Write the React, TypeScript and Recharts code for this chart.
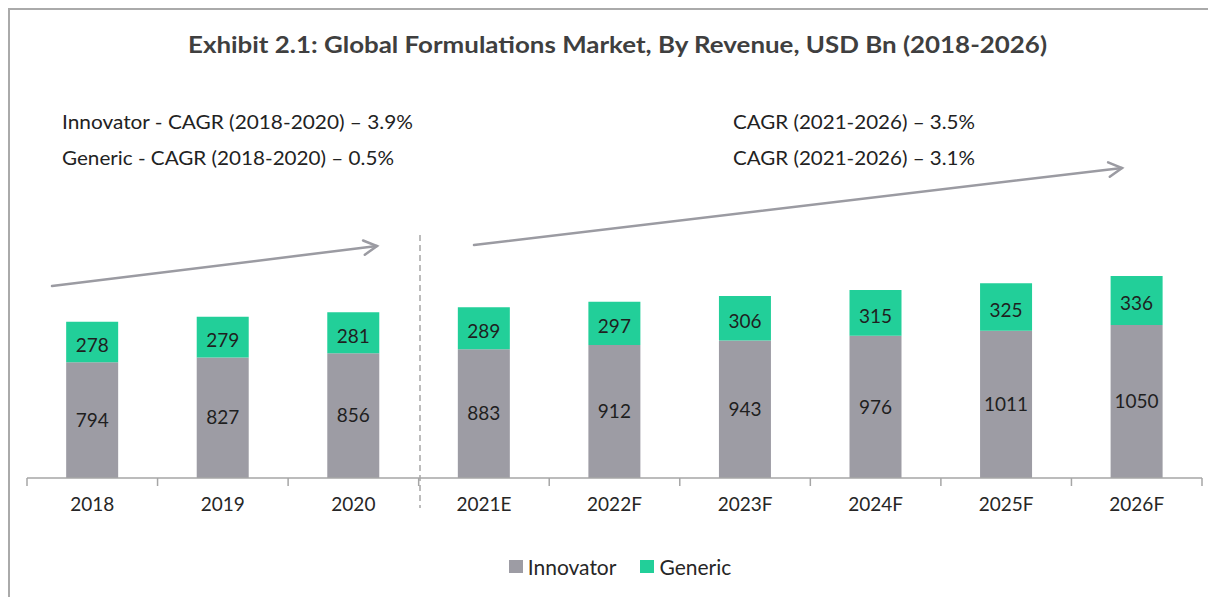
import React from 'react';
import { BarChart, Bar, XAxis, YAxis, LabelList, Legend } from 'recharts';

const years = ['2018', '2019', '2020', '2021E', '2022F', '2023F', '2024F', '2025F', '2026F'];
const innovator = [794, 827, 856, 883, 912, 943, 976, 1011, 1050];
const generic = [278, 279, 281, 289, 297, 306, 315, 325, 336];
const seriesOrder = ['Innovator', 'Generic'];

const leftNotes = ['Innovator - CAGR (2018-2020) – 3.9%', 'Generic - CAGR (2018-2020) – 0.5%'];
const leftNoteWidths = [351, 332];
const rightNotes = ['CAGR (2021-2026) – 3.5%', 'CAGR (2021-2026) – 3.1%'];
const rightNoteWidths = [242, 242];

const GRAY = '#9d9ca4';
const GREEN = '#22cf99';
const AXIS = '#a6a6a6';
const FONT = 'Lato, "Open Sans", sans-serif';

const chartData = years.map((year, i) => ({
    year,
    innovator: innovator[i],
    generic: generic[i],
}));

// tick label plus a boundary tick mark between categories
function YearTick(props: any) {
    const { x, y, payload, index, visibleTicksCount } = props;
    const half = payload?.offset ?? 65;
    const isLast = index === visibleTicksCount - 1;
    return (
        <g>
            <line x1={x - half} x2={x - half} y1={y} y2={y + 8} stroke={AXIS} strokeWidth={1.5} />
            {isLast && <line x1={x + half} x2={x + half} y1={y} y2={y + 8} stroke={AXIS} strokeWidth={1.5} />}
            <text x={x} y={y + 20} dy="0.71em" textAnchor="middle" fontSize={19} fill="#262626" fontFamily={FONT}>
                {payload.value}
            </text>
        </g>
    );
}

function LegendContent(props: any) {
    const items = [...(props.payload || [])].sort(
        (a: any, b: any) => seriesOrder.indexOf(a.value) - seriesOrder.indexOf(b.value)
    );
    return (
        <div style={{ display: 'flex', justifyContent: 'center', gap: 24, fontFamily: FONT, fontSize: 21, color: '#262626', paddingLeft: 32 }}>
            {items.map((it: any) => (
                <div key={it.value} style={{ display: 'flex', alignItems: 'center' }}>
                    <span style={{ width: 14, height: 13, background: it.color, display: 'inline-block', marginRight: 5 }} />
                    <span>{it.value}</span>
                </div>
            ))}
        </div>
    );
}

function Arrow({ x1, y1, x2, y2 }: { x1: number; y1: number; x2: number; y2: number }) {
    const ang = Math.atan2(y2 - y1, x2 - x1);
    const len = 15;
    const a1 = ang + Math.PI - 0.5;
    const a2 = ang + Math.PI + 0.5;
    return (
        <g stroke="#9b9ba2" strokeWidth={2.5} strokeLinecap="round" fill="none">
            <line x1={x1} y1={y1} x2={x2} y2={y2} />
            <polyline points={`${x2 + len * Math.cos(a1)},${y2 + len * Math.sin(a1)} ${x2},${y2} ${x2 + len * Math.cos(a2)},${y2 + len * Math.sin(a2)}`} />
        </g>
    );
}

export default function App() {
    return (
        <div style={{ position: 'absolute', left: 0, top: 0, width: 1208, height: 597, background: '#fff' }}>
            <BarChart
                width={1208}
                height={597}
                data={chartData}
                margin={{ top: 70, right: 6, left: 27, bottom: 79 }}
                barCategoryGap="30%"
            >
                <XAxis
                    dataKey="year"
                    height={40}
                    axisLine={{ stroke: AXIS, strokeWidth: 1.5 }}
                    tickLine={false}
                    tickSize={0}
                    tickMargin={0}
                    tick={<YearTick />}
                    interval={0}
                />
                <YAxis hide domain={[0, 2800]} />
                <Legend
                    layout="horizontal"
                    verticalAlign="middle"
                    align="center"
                    content={<LegendContent />}
                    wrapperStyle={{ top: 554, left: 0, width: 1208 }}
                />
                <Bar dataKey="innovator" name="Innovator" stackId="a" fill={GRAY} isAnimationActive={false}>
                    <LabelList dataKey="innovator" position="center" fill="#1f1f1f" fontSize={19} fontFamily={FONT} />
                </Bar>
                <Bar dataKey="generic" name="Generic" stackId="a" fill={GREEN} isAnimationActive={false}>
                    <LabelList dataKey="generic" position="center" fill="#1f1f1f" fontSize={19} fontFamily={FONT} dy={3} />
                </Bar>
            </BarChart>
            <svg
                width={1208}
                height={597}
                style={{ position: 'absolute', left: 0, top: 0, pointerEvents: 'none' }}
            >
                {/* frame */}
                <line x1={8} x2={1208} y1={9} y2={9} stroke="#aaaaaa" strokeWidth={2} />
                <line x1={9} x2={9} y1={8} y2={597} stroke="#aaaaaa" strokeWidth={2} />
                <text x={188} y={53} fontSize={23} fontWeight={700} fill="#3f3f3f" fontFamily={FONT} textLength={859} lengthAdjust="spacingAndGlyphs">
                    Exhibit 2.1: Global Formulations Market, By Revenue, USD  Bn (2018-2026)
                </text>
                {leftNotes.map((t, i) => (
                    <text key={t} x={62} y={129 + i * 36} fontSize={19.5} fill="#222" fontFamily={FONT} textLength={leftNoteWidths[i]} lengthAdjust="spacingAndGlyphs">{t}</text>
                ))}
                {rightNotes.map((t, i) => (
                    <text key={t} x={733} y={129 + i * 36} fontSize={19.5} fill="#222" fontFamily={FONT} textLength={rightNoteWidths[i]} lengthAdjust="spacingAndGlyphs">{t}</text>
                ))}
                <Arrow x1={52} y1={286} x2={377} y2={246} />
                <Arrow x1={474} y1={245} x2={1122} y2={168} />
                <line x1={420} x2={420} y1={235} y2={508} stroke="#a6a6a6" strokeWidth={1.5} strokeDasharray="6 4" />
            </svg>
        </div>
    );
}
